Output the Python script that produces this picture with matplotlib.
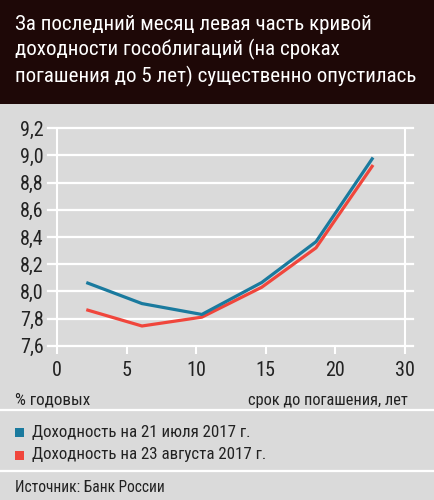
import matplotlib
matplotlib.use("Agg")
import matplotlib.pyplot as plt
from matplotlib import font_manager as fm
from matplotlib.lines import Line2D
from matplotlib.patches import Rectangle

# ---- data ----
title = "За последний месяц левая часть кривой\nдоходности гособлигаций (на сроках\nпогашения до 5 лет) существенно опустилась"
maturity = [2.1, 6.1, 10.4, 14.7, 18.6, 22.7]
yield_jul = [8.065, 7.91, 7.83, 8.065, 8.365, 8.985]
yield_aug = [7.865, 7.745, 7.81, 8.03, 8.32, 8.93]
series_labels = ["Доходность на 21 июля 2017 г.", "Доходность на 23 августа 2017 г."]
xtick_pos = [0, 5, 10, 15, 20, 25]
xtick_labels = ["0", "5", "10", "15", "20", "30"]
ytick_vals = [7.6, 7.8, 8.0, 8.2, 8.4, 8.6, 8.8, 9.0, 9.2]
ytick_labels = ["7,6", "7,8", "8,0", "8,2", "8,4", "8,6", "8,8", "9,0", "9,2"]
y_unit = "% годовых"
x_unit = "срок до погашения, лет"
source = "Источник: Банк России"

BLUE = "#1a7a9e"
RED = "#f0463c"
BG = "#dadada"
TITLE_BG = "#1e0807"

# ---- font choice ----
def pick(cands):
    for c in cands:
        try:
            fm.findfont(fm.FontProperties(family=c), fallback_to_default=False)
            return c
        except Exception:
            pass
    return "DejaVu Sans"

FONT = pick(["Liberation Sans Narrow", "Roboto Condensed", "Open Sans Condensed", "Roboto"])
plt.rcParams["font.family"] = [FONT, "DejaVu Sans"]

W, H = 435, 500
fig = plt.figure(figsize=(W / 100, H / 100), dpi=100)
fig.patch.set_facecolor(BG)

def fx(px):
    return px / W

def fy(py):
    return 1 - py / H

# title band
fig.add_artist(Rectangle((0, fy(104)), 1, 104 / H, transform=fig.transFigure,
                         facecolor=TITLE_BG, edgecolor="none", zorder=0))
fig.text(fx(15), fy(51), title, color="white", fontsize=15.1, va="center", ha="left",
         linespacing=1.33)

# axes
left, right, top, bottom = 48, 413, 128.3, 345.7
ax = fig.add_axes([fx(left), fy(bottom), fx(right - left), (bottom - top) / H])
ax.set_facecolor("none")
ax.set_xlim(-0.65, 25.57)
ax.set_ylim(7.6, 9.2)
for s in ax.spines.values():
    s.set_visible(False)
ax.set_yticks(ytick_vals)
ax.set_yticklabels(ytick_labels)
ax.set_xticks(xtick_pos)
ax.set_xticklabels(xtick_labels)
ax.tick_params(axis="y", length=0, pad=3, labelsize=14.5, labelcolor="#222222")
ax.tick_params(axis="x", length=6, width=1.5, color="white", direction="out", pad=5,
               labelsize=14.5, labelcolor="#222222")
ax.grid(axis="y", color="white", linewidth=1.6)
for gl in ax.get_ygridlines():
    gl.set_clip_on(False)
ax.axvline(xtick_pos[0], color="white", linewidth=1.5, zorder=1)
ax.axvline(xtick_pos[-1], color="white", linewidth=1.5, zorder=1)
ax.set_axisbelow(True)

ax.plot(maturity, yield_aug, color=RED, linewidth=2.3, zorder=3, solid_capstyle="butt")
ax.plot(maturity, yield_jul, color=BLUE, linewidth=2.3, zorder=4, solid_capstyle="butt")

# unit labels
fig.text(fx(15), fy(400), y_unit, fontsize=12.3, color="#222222", va="center", ha="left")
fig.text(fx(408), fy(400), x_unit, fontsize=11.8, color="#222222", va="center", ha="right")

# separators
for yy in (410, 471):
    fig.add_artist(Line2D([0, 1], [fy(yy), fy(yy)], transform=fig.transFigure,
                          color="white", linewidth=1.6))

# legend
for i, (lab, col) in enumerate(zip(series_labels, [BLUE, RED])):
    yc = 432 + i * 23
    fig.add_artist(Rectangle((fx(15), fy(yc + 4.5)), fx(9), 9 / H, transform=fig.transFigure,
                             facecolor=col, edgecolor="none"))
    fig.text(fx(32), fy(yc), lab, fontsize=12.2, color="#222222", va="center", ha="left")

fig.text(fx(15), fy(488), source, fontsize=11.2, color="#222222", va="center", ha="left")

fig.savefig("out.png", dpi=100, facecolor=BG)
